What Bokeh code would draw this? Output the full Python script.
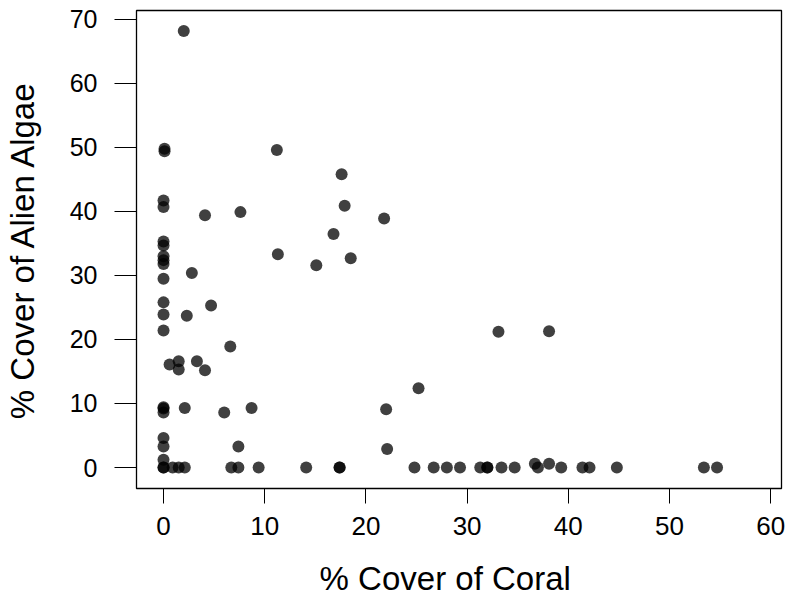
from bokeh.plotting import figure
from bokeh.models import Range1d, FixedTicker
from bokeh.embed import file_html
from bokeh.resources import INLINE

# % cover of coral (x) and % cover of alien algae (y)
coral = [2.0, 0.1, 0.1, 11.2, 17.6, 0.0, 0.0, 4.1, 7.6, 17.9,
         21.8, 16.8, 0.0, 0.0, 0.0, 0.0, 0.0, 11.3, 15.1, 18.5,
         2.8, 0.0, 0.0, 4.7, 0.0, 2.3, 0.0, 33.1, 38.1, 6.6,
         0.6, 1.5, 1.5, 3.3, 4.1, 25.2, 0.0, 0.0, 0.0, 2.1,
         6.0, 8.7, 22.0, 0.0, 0.0, 7.4, 22.1, 0.0, 36.7, 38.1,
         0.0, 0.0, 0.9, 1.5, 2.1, 6.7, 7.4, 9.4, 14.1, 17.4,
         17.4, 24.8, 26.7, 28.0, 29.3, 31.3, 32.0, 32.0, 33.4, 34.7,
         37.0, 39.3, 41.4, 42.1, 44.8, 53.4, 54.7]
algae = [68.2, 49.4, 49.8, 49.6, 45.8, 41.7, 40.7, 39.4, 39.9, 40.9,
         38.9, 36.5, 35.3, 34.7, 33.0, 32.4, 31.8, 33.3, 31.6, 32.7,
         30.4, 29.5, 25.8, 25.3, 23.9, 23.7, 21.4, 21.2, 21.3, 18.9,
         16.1, 16.6, 15.3, 16.6, 15.2, 12.4, 9.4, 9.2, 8.6, 9.3,
         8.6, 9.3, 9.1, 4.6, 3.3, 3.3, 2.9, 1.2, 0.6, 0.6,
         0.0, 0.0, 0.0, 0.0, 0.0, 0.0, 0.0, 0.0, 0.0, 0.0,
         0.0, 0.0, 0.0, 0.0, 0.0, 0.0, 0.0, 0.0, 0.0, 0.0,
         0.0, 0.0, 0.0, 0.0, 0.0, 0.0, 0.0]

x_ticks = [0, 10, 20, 30, 40, 50, 60]
y_ticks = [0, 10, 20, 30, 40, 50, 60, 70]
x_title = "% Cover of Coral"
y_title = "% Cover of Alien Algae"

FONT = "Liberation Sans"
NBSP = "\u00a0"

p = figure(width=786, height=605, output_backend="svg", toolbar_location=None,
           x_range=Range1d(-2.67, 61.07), y_range=Range1d(-3.28, 71.4),
           min_border_left=136, min_border_right=5, min_border_top=10,
           min_border_bottom=117)

p.xgrid.visible = False
p.ygrid.visible = False
p.outline_line_color = "black"
p.outline_line_width = 1.3
p.background_fill_color = "white"
p.border_fill_color = "white"

p.xaxis.ticker = FixedTicker(ticks=x_ticks)
p.yaxis.ticker = FixedTicker(ticks=y_ticks)
for ax in (p.xaxis, p.yaxis):
    ax.axis_line_color = None
    ax.minor_tick_line_color = None
    ax.major_tick_in = 0
    ax.major_tick_line_color = "black"
    ax.major_tick_line_width = 1
    ax.major_label_text_font = FONT
    ax.major_label_text_color = "black"
    ax.axis_label_text_font = FONT
    ax.axis_label_text_font_style = "normal"
    ax.axis_label_text_color = "black"

p.xaxis.major_tick_out = 15
p.xaxis.major_label_standoff = 13
p.xaxis.major_label_text_font_size = "26px"
p.xaxis.axis_label = x_title + NBSP * 3
p.xaxis.axis_label_text_font_size = "33px"
p.xaxis.axis_label_standoff = 22

p.yaxis.major_tick_out = 22
p.yaxis.major_label_standoff = 17
p.yaxis.major_label_text_font_size = "25px"
p.yaxis.major_label_orientation = "horizontal"
p.yaxis.axis_label = y_title
p.yaxis.axis_label_text_font_size = "33px"
p.yaxis.axis_label_standoff = 26

p.scatter(coral, algae, marker="circle", size=12, fill_color="black",
          fill_alpha=0.75, line_color=None)

open("out.html", "w").write(file_html(p, INLINE))
